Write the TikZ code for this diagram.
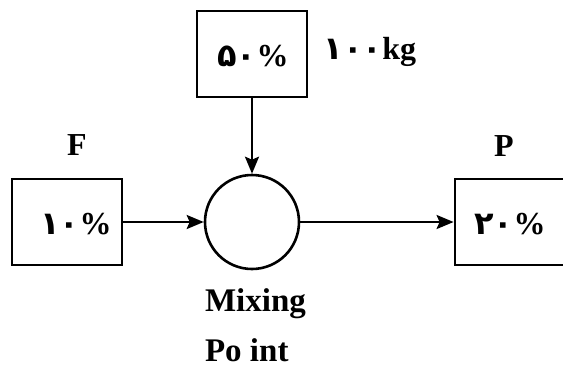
\documentclass[tikz,border=0pt]{standalone}
\usepackage{fontspec}
\setmainfont{Liberation Serif}
\newfontfamily\fadigits{DejaVu Sans}
\usetikzlibrary{arrows.meta}
\tikzset{
  mxbox/.style={draw=black, line width=1.4pt, minimum width=55pt, minimum height=43pt, inner sep=0pt},
  mxpoint/.style={draw=black, line width=1.3pt, circle, minimum size=47pt, inner sep=0pt},
  mxflow/.style={line width=1.2pt, draw=black, -{Stealth[length=8.5pt,width=7pt,inset=1.5pt]}},
  mxval/.style={font=\fontsize{16}{18}\selectfont\bfseries},
  mxlabel/.style={font=\fontsize{16}{18}\selectfont\bfseries},
  mxname/.style={font=\fontsize{16.5}{19}\selectfont\bfseries, align=left},
}
\newcommand{\fad}[1]{{\fadigits #1}}
\begin{document}
\begin{tikzpicture}[x=0.5pt,y=-0.5pt]
\useasboundingbox (0,0) rectangle (563,371);
% boxes and mixing point
\node[mxbox] (feed) at (67,222) {};
\node[mxbox] (add) at (252,54) {};
\node[mxbox] (prod) at (510,222) {};
\node[mxpoint] (mix) at (252,222) {};
% values
\node[mxval] (feedval) at (76,224) {\fad{۱۰}\%};
\node[mxval] (addval) at (253,56) {\fad{۵۰}\%};
\node[mxval] (prodval) at (510,224) {\fad{۲۰}\%};
\node[mxval] (addmass) at (370,52) {\fad{۱۰۰}kg};
% labels
\node[mxlabel] (feedlbl) at (77,145) {F};
\node[mxlabel] (prodlbl) at (504,146) {P};
\node[mxname, anchor=north west] (mixlbl) at (198,282) {Mixing\\[6pt]Po int};
% streams
\draw[mxflow] (feed) -- (mix);
\draw[mxflow] (add) -- (mix);
\draw[mxflow] (mix) -- (prod);
\end{tikzpicture}
\end{document}
